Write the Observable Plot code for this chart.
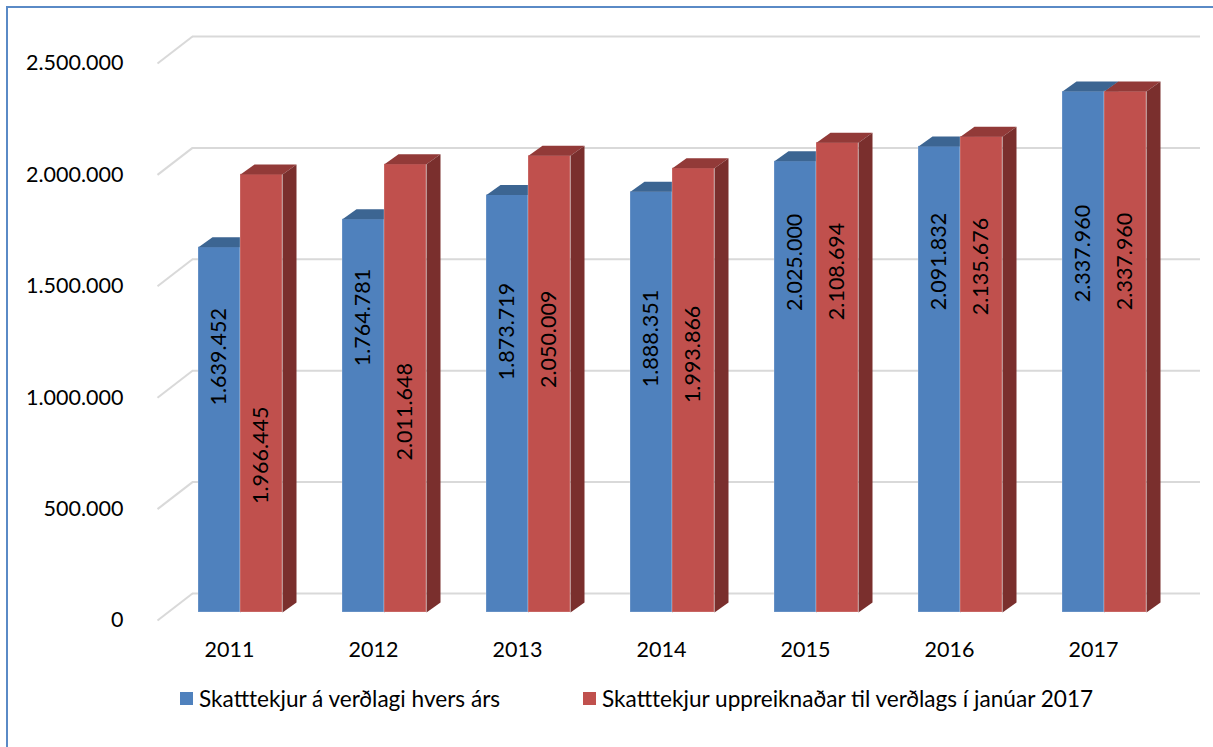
<!DOCTYPE html>
<html>
<head>
<meta charset="utf-8">
<script src="https://cdn.jsdelivr.net/npm/d3@7"></script>
<script src="https://cdn.jsdelivr.net/npm/@observablehq/plot@0.6"></script>
<style>
  html, body { margin: 0; padding: 0; background: #fff; overflow: hidden; width: 1213px; height: 747px; }
  #wrap { position: relative; width: 1213px; height: 747px; font-family: Lato, "Open Sans", sans-serif; }
  #frame { position: absolute; left: 6px; top: 6px; width: 1300px; height: 800px; border: 2px solid #5A8AC6; box-sizing: border-box; pointer-events: none; }
  #chart { position: absolute; left: 0; top: 0; }
  .leg { position: absolute; display: flex; align-items: center; font-size: 22.6px; color: #000; white-space: nowrap; }
  .sw { width: 13px; height: 13px; margin-right: 6px; }
</style>
</head>
<body>
<div id="wrap">
  <div id="chart"></div>
  <div id="legend"></div>
  <div id="frame"></div>
</div>
<script>
// ---- data ----
const years = ["2011", "2012", "2013", "2014", "2015", "2016", "2017"];
const nominal = [1639452, 1764781, 1873719, 1888351, 2025000, 2091832, 2337960];
const adjusted = [1966445, 2011648, 2050009, 1993866, 2108694, 2135676, 2337960];
const yTicks = [0, 500000, 1000000, 1500000, 2000000, 2500000];
const seriesNames = ["Skatttekjur á verðlagi hvers árs", "Skatttekjur uppreiknaðar til verðlags í janúar 2017"];

// ---- layout (not data) ----
const W = 1213, H = 670;
const M = {top: 63, bottom: 50, left: 157, right: 48};
const yMax = 2500000;
const PXX = years.length / (W - M.left - M.right);      // x data units per pixel
const PXY = yMax / (H - M.top - M.bottom);              // y data units per pixel
const barFront = {dx: 11, dy: -8};                      // bar front plane offset
const depth = {x: 14, y: 10};                           // bar depth (px)
const wall = {x: 35, y: 27};                            // back wall offset (px)
const barW = 42 * PXX;
// manual label anchor positions (as in the original, fraction of bar height)
const labelFracBlue = [0.70, 0.75, 0.673, 0.651, 0.776, 0.753, 0.689];
const labelFracRed  = [0.359, 0.448, 0.598, 0.581, 0.726, 0.727, 0.674];

const colors = {
  blue: {front: "#4F81BD", top: "#3C6592", side: "#34577F"},
  red:  {front: "#C0504D", top: "#923A38", side: "#7A2F2D"}
};

const loc = d3.formatLocale({decimal: ",", thousands: ".", grouping: [3], currency: ["", ""]});
const fmt = loc.format(",d");

function series(values, key, offset) {
  return values.map((v, i) => {
    const c = i + 0.5;
    const a = offset === 0 ? c - barW : c;
    const b = a + barW;
    return {i, v, a, b, key};
  });
}
const blue = series(nominal, "blue", 0);
const red = series(adjusted, "red", 1);

function topPoly(bars) {
  const out = [];
  for (const d of bars) {
    const ox = depth.x * PXX, oy = depth.y * PXY;
    out.push({z: d.i, x: d.a, y: d.v}, {z: d.i, x: d.b, y: d.v},
             {z: d.i, x: d.b + ox, y: d.v + oy}, {z: d.i, x: d.a + ox, y: d.v + oy});
  }
  return out;
}
function sidePoly(bars) {
  const out = [];
  for (const d of bars) {
    const ox = depth.x * PXX, oy = depth.y * PXY;
    out.push({z: d.i, x: d.b, y: 0}, {z: d.i, x: d.b, y: d.v},
             {z: d.i, x: d.b + ox, y: d.v + oy}, {z: d.i, x: d.b + ox, y: oy});
  }
  return out;
}

function barMarks(bars, col) {
  return [
    Plot.rectY(bars, {x1: "a", x2: "b", y1: 0, y2: "v", fill: col.front, ...barFront,
      stroke: "#ffffff", strokeOpacity: 0.25, strokeWidth: 1}),
    Plot.line(topPoly(bars), {x: "x", y: "y", z: "z", fill: col.top, stroke: "none", curve: "linear-closed", ...barFront}),
    Plot.line(sidePoly(bars), {x: "x", y: "y", z: "z", fill: col.side, stroke: "none", curve: "linear-closed", ...barFront})
  ];
}

const labelData = [
  ...blue.map((d, i) => ({x: (d.a + d.b) / 2, y: d.v * labelFracBlue[i], t: fmt(d.v)})),
  ...red.map((d, i) => ({x: (d.a + d.b) / 2, y: d.v * labelFracRed[i], t: fmt(d.v)}))
];

const chart = Plot.plot({
  width: W, height: H,
  marginTop: M.top, marginBottom: M.bottom, marginLeft: M.left, marginRight: M.right,
  style: {fontFamily: "Lato, 'Open Sans', sans-serif", fontSize: "21.5px", color: "#000", background: "transparent", overflow: "visible"},
  x: {type: "linear", domain: [0, years.length], axis: null},
  y: {domain: [0, yMax], ticks: yTicks, tickFormat: fmt, tickSize: 0, tickPadding: 34, label: null},
  marks: [
    // back wall gridlines
    Plot.ruleY(yTicks, {stroke: "#D9D9D9", strokeWidth: 2, dx: wall.x, dy: -wall.y}),
    // side diagonals
    Plot.link(yTicks, {x1: 0, y1: d => d, x2: wall.x * PXX, y2: d => d + wall.y * PXY, stroke: "#D9D9D9", strokeWidth: 2}),
    ...barMarks(blue, colors.blue),
    ...barMarks(red, colors.red),
    Plot.text(labelData, {x: "x", y: "y", text: "t", rotate: -90, fill: "#000", fontSize: 21.5, ...barFront}),
    Plot.text(years, {x: (d, i) => i + 0.5, y: () => 0, text: d => d, dy: 30, fill: "#000", fontSize: 21.5})
  ]
});
document.getElementById("chart").appendChild(chart);

const legend = document.getElementById("legend");
const legendCols = [colors.blue.front, colors.red.front];
const legendLeft = [180, 583];
seriesNames.forEach((name, k) => {
  const el = document.createElement("div");
  el.className = "leg";
  el.style.left = legendLeft[k] + "px";
  el.style.top = "684px";
  el.style.height = "28px";
  el.innerHTML = `<span class="sw" style="background:${legendCols[k]}"></span><span>${name}</span>`;
  legend.appendChild(el);
});
</script>
</body>
</html>
